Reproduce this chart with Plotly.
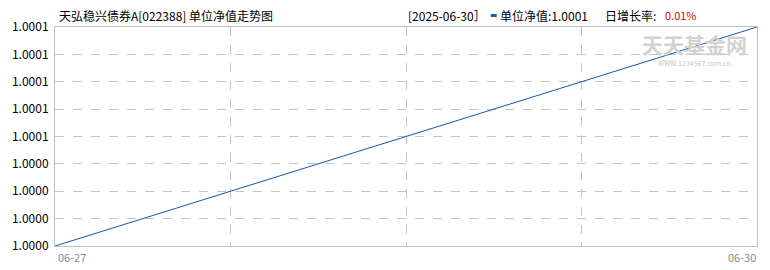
import numpy as np
import pandas as pd
import plotly.graph_objects as go

dates = ["2025-06-27", "2025-06-30"]
nav = [1.0000, 1.0001]
y_tick_labels = ["1.0000", "1.0000", "1.0000", "1.0000", "1.0001",
                 "1.0001", "1.0001", "1.0001", "1.0001"]
x_tick_labels = ["06-27", "06-30"]
title_text = "天弘稳兴债券A[022388] 单位净值走势图"
latest_date = "[2025-06-30］"
latest_nav = "单位净值:1.0001"
growth_label = "日增长率:"
growth_value = "0.01%"

W, H = 770, 270
L, R, T, B = 53, 13, 27, 24
PW, PH = W - L - R, H - T - B

def px(x):
    return (x - L) / PW

def py(y):
    return 1 - (y - T) / PH

FONT = "Noto Sans CJK SC, SimSun, sans-serif"

ymin, ymax = min(nav), max(nav)
yticks = np.linspace(ymin, ymax, len(y_tick_labels))
xgrid = pd.date_range(dates[0], dates[-1], periods=5)

fig = go.Figure()
fig.add_trace(go.Scatter(x=pd.to_datetime(dates), y=nav, mode="lines",
                         line=dict(color="#0b5cad", width=1), hoverinfo="skip"))

fig.update_layout(
    width=W, height=H, margin=dict(l=L, r=R, t=T, b=B),
    paper_bgcolor="white", plot_bgcolor="white", showlegend=False,
    font=dict(family=FONT, size=12, color="black"),
)
fig.update_xaxes(type="date", range=[xgrid[0], xgrid[-1]], tickvals=list(xgrid),
                 showticklabels=False, showgrid=True, gridcolor="#c4c4c4",
                 griddash="dash", gridwidth=1, showline=True, linecolor="#c0c0c0",
                 linewidth=1, mirror=True, zeroline=False, ticks="")
fig.update_yaxes(range=[ymin, ymax], tickvals=list(yticks), ticktext=y_tick_labels,
                 showgrid=True, gridcolor="#c4c4c4", griddash="dash", gridwidth=1,
                 showline=True, linecolor="#c0c0c0", linewidth=1, mirror=True,
                 zeroline=False, ticks="", ticklabelstandoff=3,
                 tickfont=dict(family=FONT, size=12, color="black"))

ann = []
def text(x, y, t, size=12, color="black", anchor="left", bold=False, yanchor="middle"):
    ann.append(dict(x=px(x), y=py(y), xref="paper", yref="paper", text=("<b>%s</b>" % t) if bold else t,
                    showarrow=False, xanchor=anchor, yanchor=yanchor,
                    font=dict(family=FONT, size=size, color=color)))

text(55, 15, title_text, 12)
text(405, 15, latest_date, 12)
text(497, 15, latest_nav, 12)
text(603, 15, growth_label, 12)
text(663, 15, growth_value, 11, color="#e00000")
# watermark
text(694, 44, "天天基金网", 21, color="#d2d2d2", anchor="center", bold=True)
text(694, 63, "WWW.1234567.com.cn", 7, color="#c6c6c6", anchor="center")
# x tick labels
text(54, 257, x_tick_labels[0], 11, color="#8a8a8a", anchor="left")
text(758, 257, x_tick_labels[1], 11, color="#8a8a8a", anchor="right")

fig.update_layout(annotations=ann)
fig.add_shape(type="rect", xref="paper", yref="paper",
              x0=px(490), x1=px(496), y0=py(17), y1=py(14),
              fillcolor="#1a5fb4", line=dict(width=0))

fig.write_html("out.html")
